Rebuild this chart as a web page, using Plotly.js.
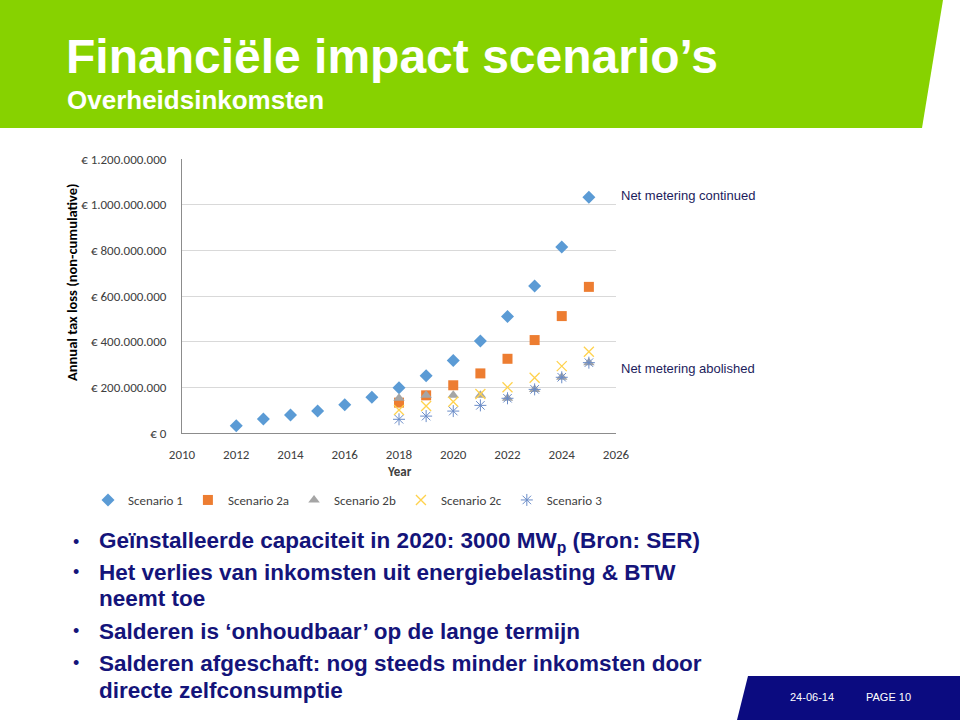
<!DOCTYPE html>
<html>
<head>
<meta charset="utf-8">
<script src="https://cdn.plot.ly/plotly-3.0.1.min.js"></script>
<style>
html,body{margin:0;padding:0;background:#fff;}
#chart{width:960px;height:720px;}
</style>
</head>
<body>
<div id="chart"></div>
<script>
// ---- data ----
const yearsScenario1 = [2012, 2013, 2014, 2015, 2016, 2017, 2018, 2019, 2020, 2021, 2022, 2023, 2024, 2025];
const scenario1 = [32000000, 61000000, 79000000, 96000000, 124000000, 157000000, 198000000, 251000000, 317000000, 403000000, 510000000, 644000000, 815000000, 1032000000];
const yearsOther = [2018, 2019, 2020, 2021, 2022, 2023, 2024, 2025];
const scenario2a = [133000000, 165000000, 209000000, 261000000, 325000000, 407000000, 512000000, 640000000];
const scenario2b = [152000000, 165000000, 165000000, 165000000, 152000000, 191000000, 244000000, 308000000];
const scenario2c = [101000000, 118000000, 137000000, 171000000, 200000000, 242000000, 293000000, 356000000];
const scenario3 = [60000000, 74000000, 96000000, 121000000, 152000000, 191000000, 244000000, 308000000];
const seriesNames = ['Scenario 1', 'Scenario 2a', 'Scenario 2b', 'Scenario 2c', 'Scenario 3'];

const titleText = 'Financiële impact scenario’s';
const subtitleText = 'Overheidsinkomsten';
const bulletLines = [
  {bullet: true, text: 'Geïnstalleerde capaciteit in 2020: 3000 MW<sub>p</sub> (Bron: SER)'},
  {bullet: true, text: 'Het verlies van inkomsten uit energiebelasting &amp; BTW'},
  {bullet: false, text: 'neemt toe'},
  {bullet: true, text: 'Salderen is ‘onhoudbaar’ op de lange termijn'},
  {bullet: true, text: 'Salderen afgeschaft: nog steeds minder inkomsten door'},
  {bullet: false, text: 'directe zelfconsumptie'}
];

// ---- layout geometry ----
const W = 960, H = 720;
const L = 182, R = 616, T = 159, B = 433;
const PW = R - L, PH = B - T;
const px = v => (v - L) / PW;
const py = v => (B - v) / PH;

const calibri = 'Carlito, Calibri, Lato, sans-serif';
const arial = '"Liberation Sans", Arial, sans-serif';
const navy = '#14147a';

const traces = [
  {x: yearsScenario1, y: scenario1, name: seriesNames[0], type: 'scatter', mode: 'markers',
   marker: {symbol: 'diamond', size: 10, color: '#5b9bd5'}},
  {x: yearsOther, y: scenario2a, name: seriesNames[1], type: 'scatter', mode: 'markers',
   marker: {symbol: 'square', size: 10, color: '#ed7d31'}},
  {x: yearsOther, y: scenario2b, name: seriesNames[2], type: 'scatter', mode: 'markers',
   marker: {symbol: 'triangle-up', size: 10, color: '#a5a5a5'}},
  {x: yearsOther, y: scenario2c, name: seriesNames[3], type: 'scatter', mode: 'markers',
   marker: {symbol: 'x-thin-open', size: 10, color: '#ffd24d', line: {width: 1.3, color: '#ffd24d'}}},
  {x: yearsOther, y: scenario3, name: seriesNames[4], type: 'scatter', mode: 'markers',
   marker: {symbol: 'asterisk-open', size: 10, color: '#6a8cc8', line: {width: 1, color: '#6a8cc8'}}}
];

const annotations = [
  {text: titleText, x: px(64), y: py(57), xref: 'paper', yref: 'paper', xanchor: 'left', yanchor: 'middle',
   showarrow: false, font: {family: arial, size: 48, color: '#ffffff', weight: 'bold'}},
  {text: subtitleText, x: px(65), y: py(100), xref: 'paper', yref: 'paper', xanchor: 'left', yanchor: 'middle',
   showarrow: false, font: {family: arial, size: 26, color: '#ffffff', weight: 'bold'}},
  {text: 'Net metering continued', x: px(619), y: py(195), xref: 'paper', yref: 'paper', xanchor: 'left', yanchor: 'middle',
   showarrow: false, font: {family: arial, size: 13, color: '#1c1c5c'}},
  {text: 'Net metering abolished', x: px(619), y: py(368), xref: 'paper', yref: 'paper', xanchor: 'left', yanchor: 'middle',
   showarrow: false, font: {family: arial, size: 13, color: '#1c1c5c'}},
  {text: 'Annual tax loss (non-cumulative)', x: px(72), y: py(282), xref: 'paper', yref: 'paper', xanchor: 'center', yanchor: 'middle',
   textangle: -90, showarrow: false, font: {family: calibri, size: 14.5, color: '#000000', weight: 'bold'}},
  {text: 'Year', x: px(399), y: py(471), xref: 'paper', yref: 'paper', xanchor: 'center', yanchor: 'middle',
   showarrow: false, font: {family: calibri, size: 13, color: '#404040', weight: 'bold'}},
  {text: '24-06-14', x: px(812), y: py(697), xref: 'paper', yref: 'paper', xanchor: 'center', yanchor: 'middle',
   showarrow: false, font: {family: arial, size: 11, color: '#ffffff'}},
  {text: 'PAGE 10', x: px(888), y: py(697), xref: 'paper', yref: 'paper', xanchor: 'center', yanchor: 'middle',
   showarrow: false, font: {family: arial, size: 11, color: '#ffffff'}}
];

const lineY = [542, 572, 598, 631, 663, 690];
bulletLines.forEach((ln, i) => {
  if (ln.bullet) {
    annotations.push({text: '•', x: px(76), y: py(lineY[i]), xref: 'paper', yref: 'paper', xanchor: 'center', yanchor: 'middle',
      showarrow: false, font: {family: arial, size: 18, color: navy}});
  }
  annotations.push({text: ln.text, x: px(97), y: py(lineY[i]), xref: 'paper', yref: 'paper', xanchor: 'left', yanchor: 'middle',
    showarrow: false, font: {family: arial, size: 22.5, color: navy, weight: 'bold'}});
});

const poly = pts => 'M ' + pts.map(p => px(p[0]) + ',' + py(p[1])).join(' L ') + ' Z';
const shapes = [
  {type: 'path', xref: 'paper', yref: 'paper', layer: 'below', line: {width: 0},
   fillcolor: '#87d200', path: poly([[0, 0], [943, 0], [922, 128], [0, 128]])},
  {type: 'path', xref: 'paper', yref: 'paper', layer: 'below', line: {width: 0},
   fillcolor: '#0b0b80', path: poly([[748, 676], [960, 676], [960, 720], [737, 720]])}
];

const layout = {
  width: W, height: H,
  margin: {l: L, r: W - R, t: T, b: H - B, pad: 0},
  paper_bgcolor: '#ffffff', plot_bgcolor: '#ffffff',
  separators: ',.',
  showlegend: true,
  legend: {orientation: 'h', x: px(88), y: py(500), xanchor: 'left', yanchor: 'middle',
    font: {family: calibri, size: 13, color: '#404040'}, itemwidth: 30, tracegroupgap: 0,
    bgcolor: 'rgba(0,0,0,0)'},
  xaxis: {range: [2010, 2026], dtick: 2, tick0: 2010, showgrid: false, zeroline: false,
    showline: true, linecolor: '#8c8c8c', linewidth: 1, ticks: '', ticklabelstandoff: 9,
    tickfont: {family: calibri, size: 13, color: '#404040'}, fixedrange: true},
  yaxis: {range: [0, 1200000000], dtick: 200000000, tick0: 0, tickformat: ',d', tickprefix: '€ ',
    showgrid: true, gridcolor: '#d9d9d9', gridwidth: 1, zeroline: false,
    showline: true, linecolor: '#8c8c8c', linewidth: 1, ticks: '', ticklabelstandoff: 12,
    tickfont: {family: calibri, size: 13, color: '#404040'}, fixedrange: true},
  shapes: shapes,
  annotations: annotations
};

Plotly.newPlot('chart', traces, layout, {displayModeBar: false, staticPlot: true});
</script>
</body>
</html>
